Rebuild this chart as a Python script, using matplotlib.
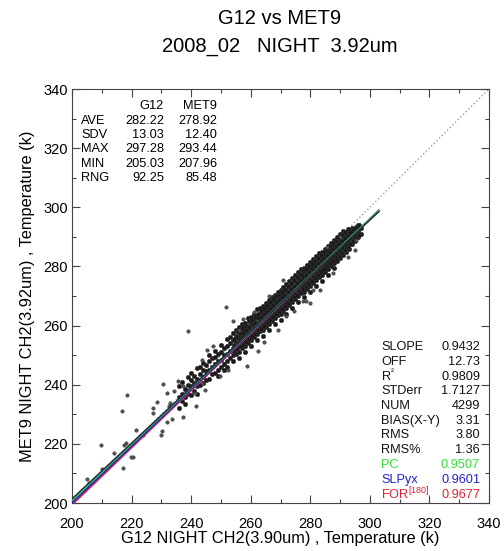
import matplotlib
matplotlib.use("Agg")
import matplotlib.pyplot as plt
from matplotlib.ticker import MultipleLocator

plt.rcParams['font.family'] = ['Liberation Sans', 'DejaVu Sans']
plt.rcParams['mathtext.fontset'] = 'custom'
plt.rcParams['mathtext.rm'] = 'Liberation Sans'
plt.rcParams['mathtext.it'] = 'Liberation Sans'

# ---------------- data ----------------
title1 = "G12 vs MET9"
title2 = "2008_02   NIGHT  3.92um"
xlabel = "G12 NIGHT CH2(3.90um) , Temperature (k)"
ylabel = "MET9 NIGHT CH2(3.92um) , Temperature (k)"

axis_min, axis_max = 200, 340
tick_values = [200, 220, 240, 260, 280, 300, 320, 340]

# dense band of points (column x and the y values seen in that column)
band_cols_x = [236, 237, 238, 239, 240, 241, 242, 243, 244, 245, 246, 247, 248,
               249, 250, 251, 252, 253, 254, 255, 256, 257, 258, 259, 260, 261,
               262, 263, 264, 265, 266, 267, 268, 269, 270, 271, 272, 273, 274,
               275, 276, 277, 278, 279, 280, 281, 282, 283, 284, 285, 286, 287,
               288, 289, 290, 291, 292, 293, 294, 295, 296, 297]
band_cols_y = [
    [232.0, 236.0, 239.5], [234.5, 237.0, 241.0], [236.0, 238.5, 233.5],
    [237.0, 240.0, 242.5], [236.5, 239.5, 241.5, 244.0], [238.0, 240.5, 243.0],
    [239.5, 242.0, 245.5, 237.0], [240.0, 243.5, 246.0],
    [240.5, 242.5, 245.0, 247.5], [241.5, 244.5, 246.5],
    [242.0, 245.0, 248.0, 250.0], [243.5, 246.0, 249.0],
    [244.0, 247.0, 249.5, 251.5], [245.0, 248.0, 250.5, 243.0],
    [246.0, 248.5, 251.0, 253.5], [247.0, 250.0, 252.5, 245.0],
    [248.0, 250.5, 253.0, 255.5, 246.0], [249.0, 251.5, 254.0, 256.0],
    [250.0, 252.5, 255.0, 257.5, 248.0], [250.5, 252.5, 254.5, 256.5, 258.5],
    [251.0, 253.0, 255.0, 257.0, 259.5, 249.0], [252.5, 254.5, 256.5, 258.5, 260.5],
    [253.0, 255.0, 257.0, 259.0, 261.0, 251.0], [254.0, 256.0, 258.0, 260.0, 262.5],
    [255.0, 257.0, 259.0, 261.0, 263.0, 253.0], [256.0, 258.0, 260.0, 262.0, 264.0],
    [257.0, 259.0, 261.0, 263.0, 265.5, 255.0], [258.0, 260.0, 262.0, 264.0, 266.0],
    [258.5, 260.5, 262.5, 264.5, 266.5, 256.5], [259.5, 261.5, 263.5, 265.5, 267.5],
    [260.5, 262.5, 264.5, 266.5, 268.5, 258.5], [261.5, 263.5, 265.5, 267.5, 269.5],
    [262.5, 264.5, 266.5, 268.5, 270.5, 260.5], [263.5, 265.5, 267.5, 269.5, 271.5],
    [264.0, 266.0, 268.0, 270.0, 272.0, 262.0], [265.0, 267.0, 269.0, 271.0, 273.0],
    [266.0, 268.0, 270.0, 272.0, 274.0, 264.0], [267.0, 269.0, 271.0, 273.0, 275.0],
    [268.0, 270.0, 272.0, 274.0, 276.0, 266.0], [269.0, 271.0, 273.0, 275.0, 277.0],
    [270.0, 272.0, 274.0, 276.0, 278.0, 268.0], [271.0, 273.0, 275.0, 277.0, 279.0],
    [271.5, 273.5, 275.5, 277.5, 279.5, 269.5], [272.5, 274.5, 276.5, 278.5, 280.5],
    [273.5, 275.5, 277.5, 279.5, 281.5, 271.5], [274.5, 276.5, 278.5, 280.5, 282.5],
    [275.5, 277.5, 279.5, 281.5, 283.5, 273.5], [276.5, 278.5, 280.5, 282.5, 284.5],
    [277.0, 279.0, 281.0, 283.0, 285.0, 275.0], [278.0, 280.0, 282.0, 284.0, 286.0],
    [279.0, 281.0, 283.0, 285.0, 287.0, 277.0], [280.0, 282.0, 284.0, 286.0, 288.0],
    [281.0, 283.0, 285.0, 287.0, 289.0, 279.5], [282.0, 284.0, 286.0, 288.0, 290.0],
    [283.0, 285.0, 287.0, 289.0, 291.0], [284.0, 286.0, 288.0, 290.0, 292.0],
    [285.0, 287.0, 289.0, 291.0], [286.0, 288.0, 290.0, 292.0],
    [287.5, 289.5, 291.5, 293.0], [288.5, 290.5, 292.5],
    [290.0, 292.0, 294.0], [291.0, 293.0],
]

# in-between columns of the dense core
core_cols_x = [254.5, 255.5, 256.5, 257.5, 258.5, 259.5, 260.5, 261.5, 262.5, 263.5,
               264.5, 265.5, 266.5, 267.5, 268.5, 269.5, 270.5, 271.5, 272.5, 273.5,
               274.5, 275.5, 276.5, 277.5, 278.5, 279.5, 280.5, 281.5, 282.5, 283.5,
               284.5, 285.5, 286.5, 287.5, 288.5, 289.5, 290.5, 291.5, 292.5, 293.5,
               294.5, 295.5, 296.5]
core_cols_y = [
    [251.5, 253.5, 255.5], [252.0, 254.0, 256.0, 258.0], [253.0, 255.5, 257.5],
    [253.5, 255.5, 257.5, 259.5], [254.5, 256.5, 258.5, 260.0],
    [255.5, 257.5, 259.5, 261.5], [256.5, 258.5, 260.5, 262.0],
    [257.0, 259.0, 261.0, 263.0], [258.5, 260.5, 262.5, 264.0],
    [259.0, 261.0, 263.0, 265.0], [260.0, 262.0, 264.0, 266.0],
    [261.0, 263.0, 265.0, 267.0], [262.0, 264.0, 266.0, 268.0],
    [263.0, 265.0, 267.0, 269.0], [264.0, 266.0, 268.0, 270.0],
    [264.5, 266.5, 268.5, 270.5], [265.5, 267.5, 269.5, 271.5],
    [266.5, 268.5, 270.5, 272.5], [267.5, 269.5, 271.5, 273.5],
    [268.5, 270.5, 272.5, 274.5], [269.5, 271.5, 273.5, 275.5],
    [270.5, 272.5, 274.5, 276.5], [271.5, 273.5, 275.5, 277.5],
    [272.5, 274.5, 276.5, 278.5], [273.0, 275.0, 277.0, 279.0],
    [274.0, 276.0, 278.0, 280.0], [275.0, 277.0, 279.0, 281.0],
    [276.0, 278.0, 280.0, 282.0], [277.0, 279.0, 281.0, 283.0],
    [278.0, 280.0, 282.0, 284.0], [279.0, 281.0, 283.0, 285.0],
    [280.0, 282.0, 284.0, 286.0], [281.0, 283.0, 285.0, 287.0],
    [282.0, 284.0, 286.0, 288.0], [282.5, 284.5, 286.5, 288.5],
    [283.5, 285.5, 287.5, 289.5], [284.5, 286.5, 288.5, 290.5],
    [285.5, 287.5, 289.5, 291.5], [286.5, 288.5, 290.5, 292.5],
    [287.5, 289.5, 291.5], [288.5, 290.5, 292.5], [289.5, 291.5, 293.5],
    [290.5, 292.5, 294.0],
]

# scattered points away from the band
outlier_x = [218.6, 216.7, 209.6, 214.2, 210.2, 204.9, 205.7, 217.0, 218.0, 217.6,
             220.4, 219.8, 221.4, 223.9, 230.1, 229.8, 230.4, 235.7, 228.4, 227.1,
             227.3, 229.0, 231.8, 232.9, 232.7, 232.0, 233.5, 234.2, 237.1, 237.3,
             241.6, 241.3, 239.2, 243.5, 244.6, 251.7, 239.0, 253.9, 257.5, 262.6,
             258.6, 252.5, 249.7, 243.5, 245.2, 247.4, 269.2, 272.0, 277.6, 279.9,
             289.9, 295.5, 295.0, 292.7, 287.7, 283.2, 278.7, 270.9, 266.0, 261.0,
             274.5, 285.5, 264.5, 256.0, 281.0]
outlier_y = [236.4, 231.2, 219.5, 217.0, 211.5, 208.1, 206.7, 211.9, 220.3, 219.5,
             215.7, 215.7, 224.8, 223.1, 224.5, 222.9, 240.3, 241.1, 234.0, 232.1,
             230.4, 228.4, 237.2, 233.8, 232.7, 227.3, 228.4, 237.8, 239.4, 229.1,
             232.9, 237.2, 238.3, 240.6, 238.1, 266.2, 258.2, 261.4, 262.3, 251.3,
             246.2, 245.1, 242.8, 248.5, 251.8, 253.0, 258.6, 263.1, 268.2, 267.6,
             290.1, 289.0, 285.6, 283.3, 277.7, 272.1, 268.2, 275.5, 270.0, 264.5,
             265.0, 286.5, 254.5, 258.5, 272.0]

# fitted lines (end points)
line_x = [200.0, 303.0]
fit_black_y = [201.4, 298.5]
fit_green_y = [200.9, 298.8]
fit_blue_y = [200.1, 298.9]
fit_red_y = [199.4, 298.9]

# statistics tables
stat_names = ["AVE", "SDV", "MAX", "MIN", "RNG"]
stat_g12 = ["282.22", "13.03", "297.28", "205.03", "92.25"]
stat_met9 = ["278.92", "12.40", "293.44", "207.96", "85.48"]

fit_names = ["SLOPE", "OFF", "R$^{\u00b2}$", "STDerr", "NUM", "BIAS(X-Y)", "RMS", "RMS%",
             "PC", "SLPyx", "FOR$^{[180]}$"]
fit_values = ["0.9432", "12.73", "0.9809", "1.7127", "4299", "3.31", "3.80", "1.36",
              "0.9507", "0.9601", "0.9677"]
fit_colors = ["#111111"] * 8 + ["#33dd33", "#2222cc", "#dd2233"]

# ---------------- figure ----------------
W, H = 504, 551
fig = plt.figure(figsize=(W / 100, H / 100), dpi=100)
ax = fig.add_axes([72 / W, 1 - 503 / H, (489 - 72) / W, (503 - 89) / H])

sx, sy = [], []
for cols_x, cols_y in ((band_cols_x, band_cols_y), (core_cols_x, core_cols_y)):
    for cx, ys in zip(cols_x, cols_y):
        for yv in ys:
            sx.append(cx)
            sy.append(yv)
ax.scatter(sx, sy, s=10, facecolor="#1a1a1a", edgecolor="#333333", linewidths=0.4, zorder=2)
ax.scatter(outlier_x, outlier_y, s=6, facecolor="#555555", edgecolor="#333333",
           linewidths=0.4, zorder=2)

ax.plot([axis_min, axis_max], [axis_min, axis_max], linestyle=(0, (1, 2)), color="#888888",
        lw=0.9, zorder=1)
ax.plot(line_x, fit_red_y, color="#dd2255", lw=1.3, zorder=3)
ax.plot(line_x, fit_blue_y, color="#2222cc", lw=1.3, zorder=3)
ax.plot(line_x, fit_green_y, color="#33cc33", lw=1.3, zorder=3)
ax.plot(line_x, fit_black_y, color="#222244", lw=1.0, zorder=3)

ax.set_xlim(axis_min, axis_max)
ax.set_ylim(axis_min, axis_max)
ax.set_xticks(tick_values)
ax.set_yticks(tick_values)
ax.xaxis.set_minor_locator(MultipleLocator(10))
ax.yaxis.set_minor_locator(MultipleLocator(10))
ax.tick_params(which="both", direction="in", top=True, right=True, color="#444444",
               labelsize=10.5)
ax.tick_params(axis="y", pad=3)
ax.tick_params(axis="x", pad=10)
ax.tick_params(which="major", length=6, width=0.8)
ax.tick_params(which="minor", length=3, width=0.8)
for sp in ax.spines.values():
    sp.set_color("#444444")
    sp.set_linewidth(0.8)

ax.set_xlabel(xlabel, fontsize=11.8, labelpad=0)
ax.set_ylabel(ylabel, fontsize=11.8, labelpad=6)

fig.text(280 / W, 1 - 18 / H, title1, ha="center", va="center", fontsize=14.5)
fig.text(280 / W, 1 - 46 / H, title2, ha="center", va="center", fontsize=14.5)

# top-left table
fs = 9.2
def px(x, y):
    return x / W, 1 - y / H

fig.text(*px(164, 106), "G12", ha="right", va="center", fontsize=fs)
fig.text(*px(217, 106), "MET9", ha="right", va="center", fontsize=fs)
for i, (n, a, b) in enumerate(zip(stat_names, stat_g12, stat_met9)):
    yy = 121 + i * 14.25
    fig.text(*px(81, yy), n, ha="left", va="center", fontsize=fs)
    fig.text(*px(164, yy), a, ha="right", va="center", fontsize=fs)
    fig.text(*px(217, yy), b, ha="right", va="center", fontsize=fs)

# bottom-right table
for i, (n, v, c) in enumerate(zip(fit_names, fit_values, fit_colors)):
    yy = 347 + i * 14.75
    fig.text(*px(381, yy), n, ha="left", va="center", fontsize=fs, color=c)
    fig.text(*px(480, yy), v, ha="right", va="center", fontsize=fs, color=c)

fig.savefig("out.png", dpi=100, facecolor="white")
